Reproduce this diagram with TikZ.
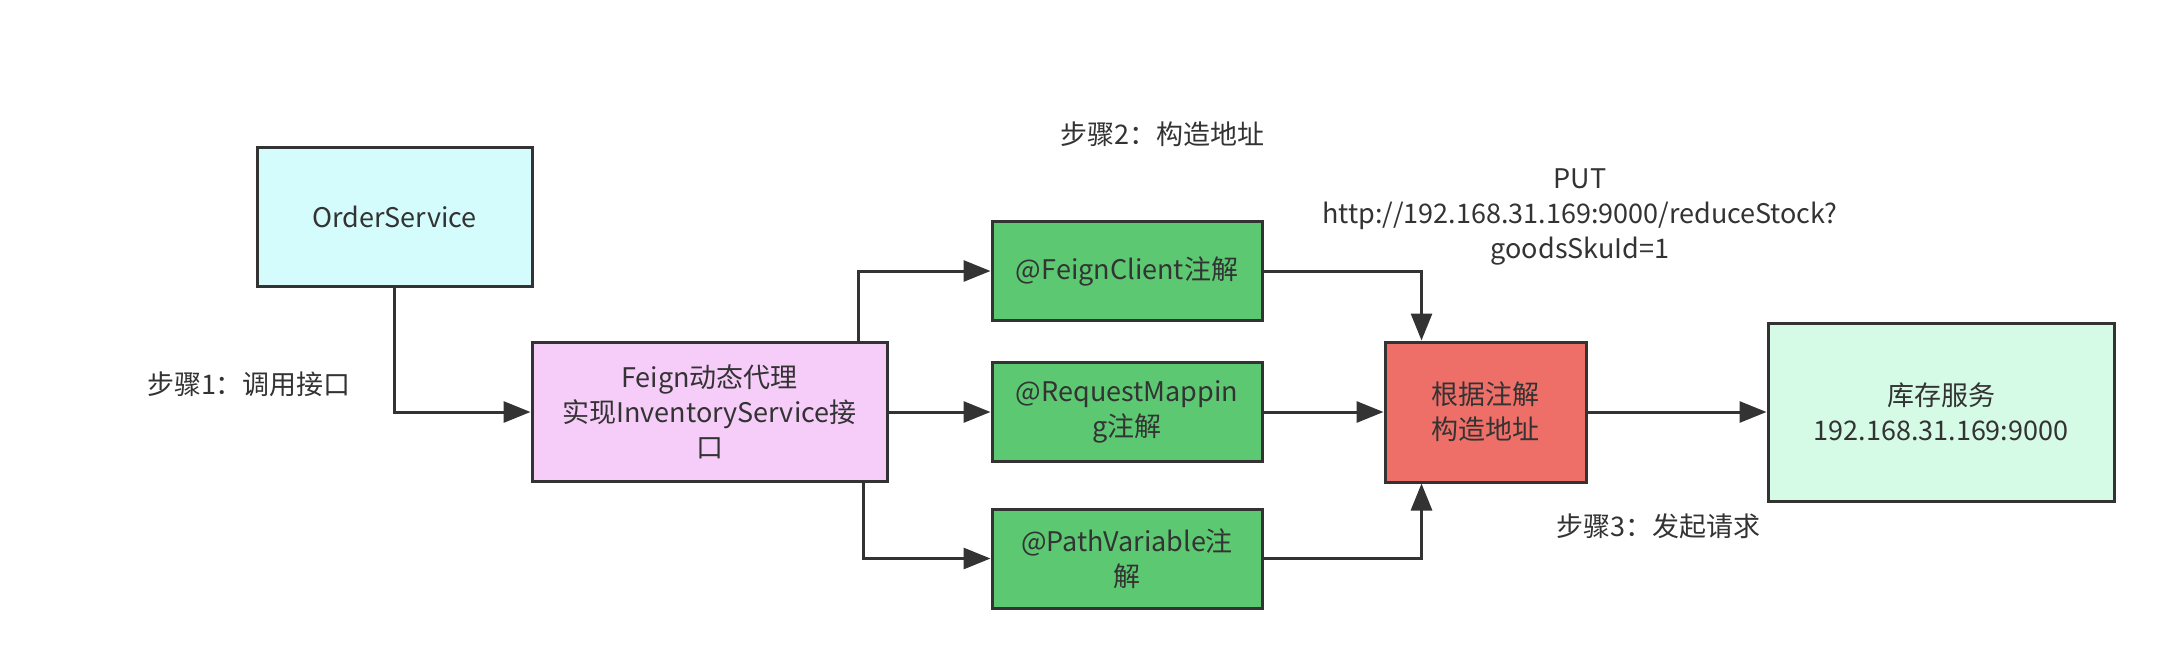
\documentclass[tikz,border=0pt]{standalone}
\usepackage{fontspec}
\setmainfont{Noto Sans CJK SC}
\usetikzlibrary{arrows.meta}
\definecolor{ink}{HTML}{333333}
\definecolor{cyanfill}{HTML}{D4FCFC}
\definecolor{pinkfill}{HTML}{F5CDF8}
\definecolor{greenfill}{HTML}{5DC872}
\definecolor{redfill}{HTML}{EE6E68}
\definecolor{mintfill}{HTML}{D5FAE6}
\tikzset{
  box/.style={draw=ink, line width=3pt, rectangle, align=center, text=ink,
    font=\fontsize{27}{35}\selectfont, inner sep=0pt},
  lbl/.style={text=ink, align=center, font=\fontsize{27}{35}\selectfont, inner sep=0pt},
  conn/.style={draw=ink, line width=3pt, -{Triangle[length=27pt,width=21pt]}},
}
\begin{document}
\begin{tikzpicture}[x=1pt,y=-1pt]
\useasboundingbox[fill=white] (0,0) rectangle (2172,670);
\node[box, fill=cyanfill, minimum width=275pt, minimum height=139pt] (os) at (394.5,216.5) {OrderService};
\node[box, fill=pinkfill, minimum width=355pt, minimum height=139pt] (feign) at (709.5,412) {Feign动态代理\\实现InventoryService接\\口};
\node[box, fill=greenfill, minimum width=270pt, minimum height=99pt] (fc) at (1127,271) {@FeignClient注解};
\node[box, fill=greenfill, minimum width=270pt, minimum height=99pt] (rm) at (1127,412) {@RequestMappin\\g注解};
\node[box, fill=greenfill, minimum width=270pt, minimum height=99pt] (pv) at (1127,558.5) {@PathVariable注\\解};
\node[box, fill=redfill, minimum width=201pt, minimum height=140pt] (red) at (1485.5,412) {根据注解\\构造地址};
\node[box, fill=mintfill, minimum width=346pt, minimum height=178pt] (inv) at (1941,412) {库存服务\\192.168.31.169:9000};
\node[lbl] (s1) at (249,384) {步骤1：调用接口};
\node[lbl] (s2) at (1162,134) {步骤2：构造地址};
\node[lbl] (put) at (1580,217) {PUT\\http://192.168.31.169:9000/reduceStock?\\goodsSkuId=1};
\node[lbl] (s3) at (1658,526) {步骤3：发起请求};
\draw[conn] (os.south) |- (feign.west);
\draw[conn] ([xshift=-30pt]feign.north east) |- (fc.west);
\draw[conn] (feign.east) -- (rm.west);
\draw[conn] ([xshift=-25pt]feign.south east) |- (pv.west);
\draw[conn] (fc.east) -| ([xshift=38pt]red.north west);
\draw[conn] (rm.east) -- (red.west);
\draw[conn] (pv.east) -| ([xshift=38pt]red.south west);
\draw[conn] (red.east) -- (inv.west);
\end{tikzpicture}
\end{document}
